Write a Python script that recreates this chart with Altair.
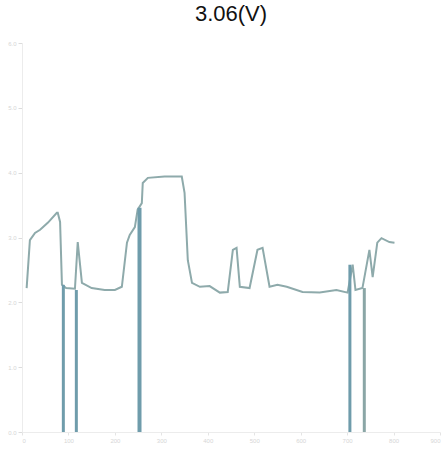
import altair as alt
import pandas as pd

# line series
xs = [10, 17, 28, 39, 56, 75, 77, 82, 86, 95, 114, 120, 129, 150, 178, 200, 215, 226, 232, 243,
      249, 258, 260, 271, 307, 344, 350, 357, 366, 383, 404, 426, 443, 454, 462, 469, 490, 507,
      518, 533, 550, 570, 604, 641, 677, 701, 712, 718, 733, 748, 755, 765, 774, 791, 802]
ys = [2.22, 2.96, 3.07, 3.12, 3.23, 3.38, 3.38, 3.24, 2.27, 2.22, 2.21, 2.93, 2.30, 2.22, 2.19,
      2.19, 2.24, 2.92, 3.04, 3.16, 3.43, 3.53, 3.84, 3.92, 3.94, 3.94, 3.69, 2.65, 2.30, 2.24,
      2.25, 2.15, 2.16, 2.81, 2.84, 2.24, 2.22, 2.81, 2.84, 2.24, 2.27, 2.24, 2.16, 2.15, 2.19,
      2.15, 2.58, 2.19, 2.22, 2.81, 2.39, 2.92, 2.99, 2.93, 2.92]

# dropout spikes
spike_x = [89, 117, 253, 706, 737]
spike_top = [2.27, 2.19, 3.46, 2.58, 2.22]
spike_w = [3, 3, 4, 3, 3]
spike_col = ["#6f9cab", "#6f9cab", "#6f9cab", "#6f9cab", "#8aa6a6"]

line_df = pd.DataFrame({"x": xs, "y": ys})
spike_df = pd.DataFrame({"x": spike_x, "top": spike_top, "w": spike_w, "c": spike_col})
spike_df["bottom"] = 0.0

xscale = alt.Scale(domain=[0, 900], nice=False)
yscale = alt.Scale(domain=[0, 6], nice=False)

xaxis = alt.Axis(values=list(range(0, 901, 100)), grid=False, domainColor="#ececec",
                 tickColor="#e4e4e4", labelColor="#d6d6d6", labelFontSize=6, tickSize=3,
                 title=None, labelPadding=2)
yaxis = alt.Axis(values=list(range(0, 7)), grid=False, domainColor="#ececec",
                 tickColor="#dcdcdc", labelColor="#d6d6d6", labelFontSize=6, tickSize=4,
                 title=None, labelPadding=2)

line = alt.Chart(line_df).mark_line(color="#8eaaab", strokeWidth=2).encode(
    x=alt.X("x:Q", scale=xscale, axis=xaxis),
    y=alt.Y("y:Q", scale=yscale, axis=yaxis),
)

spikes = alt.Chart(spike_df).mark_rule().encode(
    x=alt.X("x:Q", scale=xscale),
    y=alt.Y("top:Q", scale=yscale),
    y2="bottom:Q",
    color=alt.Color("c:N", scale=None),
    strokeWidth=alt.StrokeWidth("w:Q", scale=None),
)

chart = alt.layer(line, spikes).properties(
    width=418, height=389,
    title=alt.TitleParams("3.06(V)", fontSize=22, font="Liberation Sans", fontWeight="normal",
                          color="#111111", anchor="middle", offset=14),
    autosize=alt.AutoSizeParams(type="none"),
    padding={"left": 22, "top": 43, "right": 8, "bottom": 19},
).configure(background="white").configure_view(stroke=None)

chart.save("out.html", embed_options={"renderer": "svg", "actions": False})
